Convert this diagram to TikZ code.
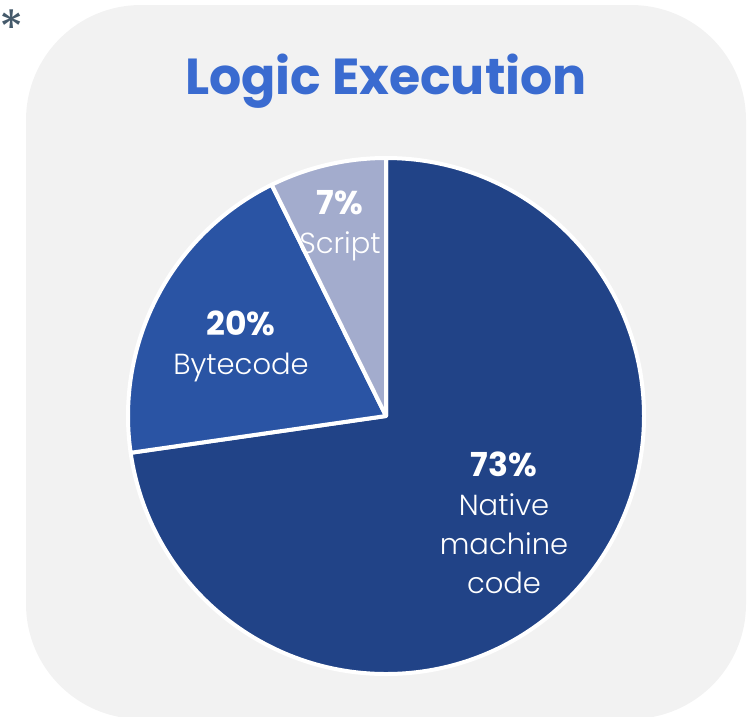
\documentclass[tikz,border=0pt]{standalone}
\usepackage{fontspec}
\setmainfont{Poppins}
\definecolor{panel}{HTML}{F2F2F2}
\definecolor{titleblue}{HTML}{3A6BD0}
\definecolor{sliceA}{HTML}{214387}
\definecolor{sliceB}{HTML}{2A54A4}
\definecolor{sliceC}{HTML}{A3ACCD}
\definecolor{star}{HTML}{455A6B}
\tikzset{
  slice/.style={draw=white,line width=4pt,line join=round},
  pct/.style={text=white,font=\fontsize{33}{39}\selectfont\bfseries,inner sep=0pt},
  lbl/.style={text=white,font=\fontsize{29}{39}\selectfont\fontspec{Poppins Light},align=center,inner sep=0pt},
}
\begin{document}
\begin{tikzpicture}[x=1pt,y=-1pt]
\useasboundingbox (0,0) rectangle (755,716);
\begin{scope}
\clip (0,0) rectangle (755,716);
\fill[panel] (26,120) arc[start angle=180,end angle=270,radius=115] -- (631,5) arc[start angle=270,end angle=360,radius=115]
  -- (746,604) arc[start angle=0,end angle=90,radius=115] -- (141,719) arc[start angle=90,end angle=180,radius=115] -- cycle;
\end{scope}
\node[text=star,font=\fontsize{50}{50}\selectfont,inner sep=0pt] (ast) at (12,28) {*};
\node[text=titleblue,font=\fontsize{50.6}{56}\selectfont\bfseries,inner sep=0pt] (title) at (386,81) {Logic Execution};
\coordinate (c) at (386,416);
\def\R{258}
% y axis is flipped, so angles run clockwise from the x axis on the page
\draw[slice,fill=sliceA] (c) -- ++(-90:\R) arc[start angle=-90,end angle=171.8,radius=\R] -- cycle;
\draw[slice,fill=sliceB] (c) -- ++(171.8:\R) arc[start angle=171.8,end angle=243.7,radius=\R] -- cycle;
\draw[slice,fill=sliceC] (c) -- ++(243.7:\R) arc[start angle=243.7,end angle=270,radius=\R] -- cycle;
\node[pct] (p73) at (504,464) {73\%};
\node[lbl] (l73) at (504,543.5) {Native\\machine\\code};
\node[pct] (p20) at (241,323) {20\%};
\node[lbl] (l20) at (241,367) {Bytecode};
\node[pct] (p7) at (340,203) {7\%};
\node[lbl] (l7) at (340,246) {Script};
\end{tikzpicture}
\end{document}
